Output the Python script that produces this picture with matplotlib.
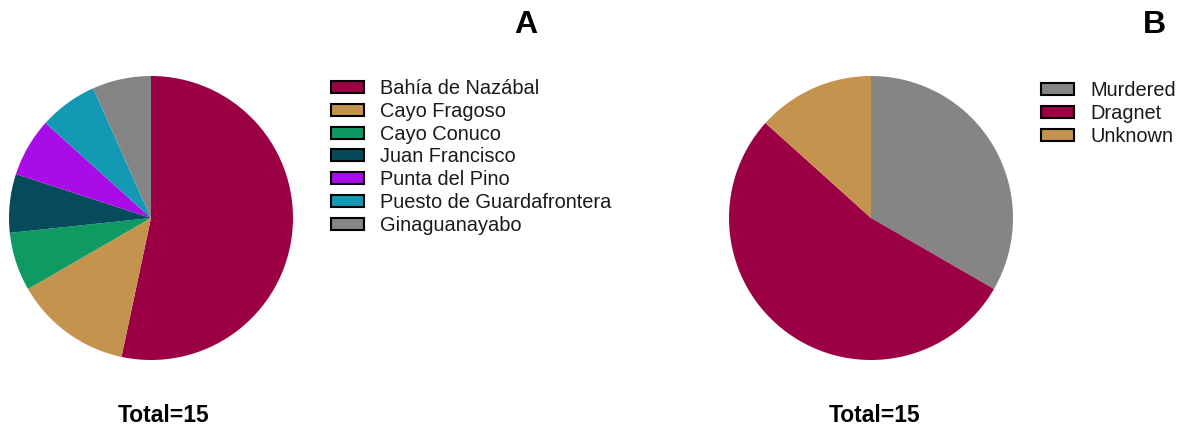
import matplotlib
matplotlib.use("Agg")
import matplotlib.pyplot as plt
from matplotlib.patches import Patch

plt.rcParams['font.family'] = ['Liberation Sans', 'DejaVu Sans']

# panel A: locality
sites = ["Bahía de Nazábal", "Cayo Fragoso", "Cayo Conuco", "Juan Francisco",
         "Punta del Pino", "Puesto de Guardafrontera", "Ginaguanayabo"]
site_counts = [8, 2, 1, 1, 1, 1, 1]
site_colors = ["#9C0044", "#C4944E", "#0E9A62", "#064B5C",
               "#A80DE8", "#1499B4", "#858585"]

# panel B: cause
causes = ["Murdered", "Dragnet", "Unknown"]
cause_counts = [5, 8, 2]
cause_colors = ["#858585", "#9C0044", "#C4944E"]

W, H = 1183, 430
fig = plt.figure(figsize=(W / 100, H / 100), dpi=100)


def pie_axes(cx, cy, r):
    ax = fig.add_axes([(cx - r) / W, (H - cy - r) / H, 2 * r / W, 2 * r / H])
    return ax


def draw(ax, counts, colors):
    ax.pie(counts, colors=colors, startangle=90, counterclock=False,
           radius=1.0, wedgeprops=dict(linewidth=0))
    ax.set_xlim(-1, 1)
    ax.set_ylim(-1, 1)
    ax.set_aspect("equal")
    ax.axis("off")


axA = pie_axes(151, 218, 142)
draw(axA, site_counts, site_colors)
axB = pie_axes(871, 218, 142)
draw(axB, cause_counts, cause_colors)

legkw = dict(frameon=False, fontsize=14.4, handlelength=1.65, handleheight=0.55,
             handletextpad=0.8, labelspacing=0.19, borderaxespad=0, borderpad=0,
             labelcolor="#1a1a1a")

hA = [Patch(facecolor=c, edgecolor="black", linewidth=1.5) for c in site_colors]
fig.legend(hA, sites, loc="upper left", bbox_to_anchor=(331 / W, 1 - 79 / H), **legkw)
hB = [Patch(facecolor=c, edgecolor="black", linewidth=1.5) for c in cause_colors]
fig.legend(hB, causes, loc="upper left", bbox_to_anchor=(1041 / W, 1 - 81 / H), **legkw)

fig.text(526 / W, 1 - 25 / H, "A", fontsize=23, fontweight="bold", ha="center", va="center")
fig.text(1154 / W, 1 - 25 / H, "B", fontsize=23, fontweight="bold", ha="center", va="center")
fig.text(164 / W, 1 - 416 / H, "Total=15", fontsize=16.5, fontweight="bold", ha="center", va="center")
fig.text(875 / W, 1 - 416 / H, "Total=15", fontsize=16.5, fontweight="bold", ha="center", va="center")

fig.savefig("out.png", dpi=100)
